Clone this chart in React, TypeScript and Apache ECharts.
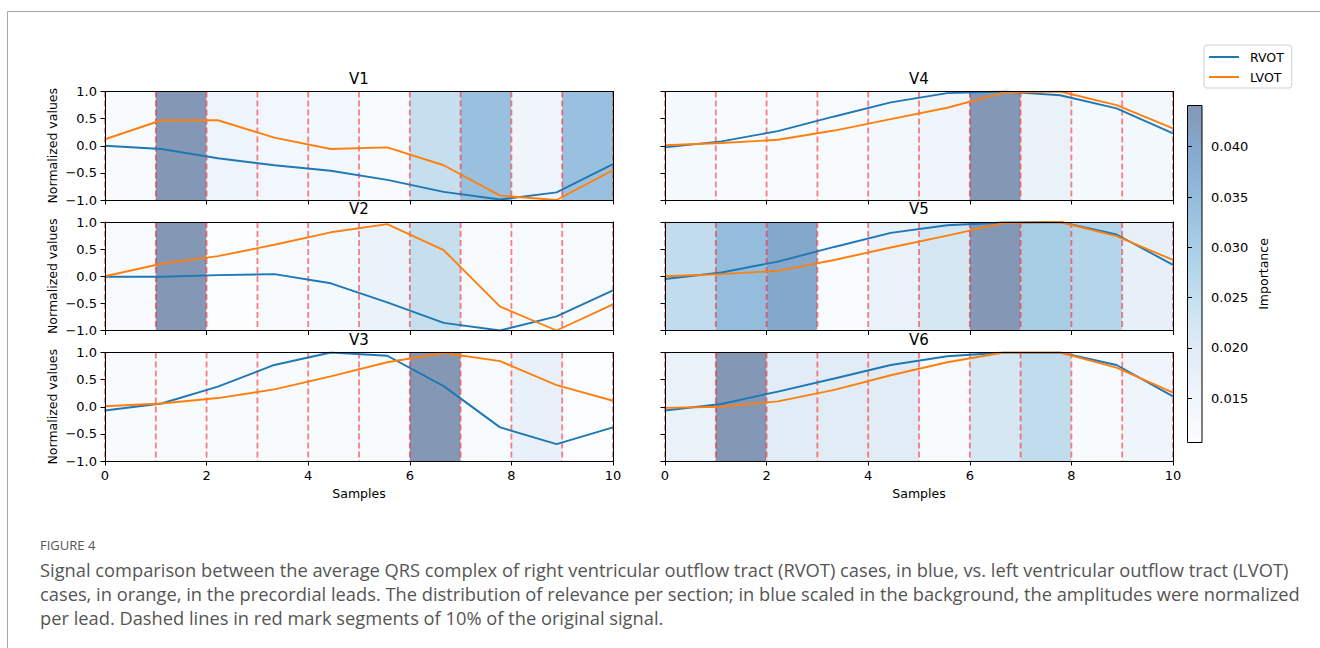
import React, { useEffect, useRef } from 'react';
import * as echarts from 'echarts';

// ---------------- data ----------------
const leads = ['V1', 'V2', 'V3', 'V4', 'V5', 'V6'];
const samples = [0, 1.111, 2.222, 3.333, 4.444, 5.556, 6.667, 7.778, 8.889, 10];

const rvotV1 = [0.0, -0.06, -0.23, -0.36, -0.46, -0.63, -0.85, -0.99, -0.86, -0.34];
const lvotV1 = [0.12, 0.47, 0.47, 0.15, -0.06, -0.03, -0.36, -0.92, -1.0, -0.45];
const rvotV2 = [-0.01, -0.01, 0.02, 0.04, -0.13, -0.48, -0.86, -1.0, -0.74, -0.26];
const lvotV2 = [0.0, 0.23, 0.37, 0.58, 0.81, 0.96, 0.48, -0.56, -1.0, -0.52];
const rvotV3 = [-0.07, 0.06, 0.37, 0.77, 1.0, 0.94, 0.38, -0.38, -0.69, -0.38];
const lvotV3 = [0.01, 0.06, 0.16, 0.32, 0.56, 0.82, 0.99, 0.84, 0.4, 0.11];
const rvotV4 = [-0.03, 0.08, 0.27, 0.54, 0.8, 0.97, 1.0, 0.93, 0.69, 0.23];
const lvotV4 = [0.01, 0.05, 0.11, 0.28, 0.49, 0.7, 0.98, 1.0, 0.75, 0.32];
const rvotV5 = [-0.05, 0.07, 0.27, 0.54, 0.8, 0.94, 0.99, 1.0, 0.77, 0.21];
const lvotV5 = [0.0, 0.04, 0.1, 0.3, 0.53, 0.75, 0.98, 1.0, 0.74, 0.3];
const rvotV6 = [-0.07, 0.05, 0.28, 0.52, 0.77, 0.93, 1.0, 1.0, 0.77, 0.19];
const lvotV6 = [-0.02, 0.0, 0.1, 0.31, 0.58, 0.82, 1.0, 1.0, 0.72, 0.26];

const segmentEdges = [0, 1, 2, 3, 4, 5, 6, 7, 8, 9, 10];
const importanceV1 = [0.0116, 0.0441, 0.0153, 0.014, 0.014, 0.0119, 0.0247, 0.0334, 0.0146, 0.0334];
const importanceV2 = [0.0123, 0.0441, 0.0109, 0.0123, 0.0129, 0.016, 0.0247, 0.0123, 0.0123, 0.0116];
const importanceV3 = [0.0116, 0.0116, 0.0116, 0.0116, 0.0116, 0.0119, 0.0441, 0.0116, 0.017, 0.0109];
const importanceV4 = [0.0129, 0.0119, 0.0119, 0.0119, 0.0133, 0.0146, 0.0441, 0.0166, 0.0129, 0.0133];
const importanceV5 = [0.0253, 0.0347, 0.0401, 0.0113, 0.0166, 0.0217, 0.0441, 0.03, 0.0274, 0.0173];
const importanceV6 = [0.0166, 0.0441, 0.0193, 0.0193, 0.0193, 0.0116, 0.022, 0.0253, 0.0119, 0.0146];

const importanceMin = 0.0106;
const importanceMax = 0.0441;
const colorbarTicks = [0.015, 0.02, 0.025, 0.03, 0.035, 0.04];
const xTicksInterval = 2;
const yTicksInterval = 0.5;
const seriesNames = ['RVOT', 'LVOT'];

const captionHead = 'FIGURE 4';
const captionLines = [
  'Signal comparison between the average QRS complex of right ventricular outflow tract (RVOT) cases, in blue, vs. left ventricular outflow tract (LVOT)',
  'cases, in orange, in the precordial leads. The distribution of relevance per section; in blue scaled in the background, the amplitudes were normalized',
  'per lead. Dashed lines in red mark segments of 10% of the original signal.',
];

const rvotAll = [rvotV1, rvotV2, rvotV3, rvotV4, rvotV5, rvotV6];
const lvotAll = [lvotV1, lvotV2, lvotV3, lvotV4, lvotV5, lvotV6];
const importanceAll = [importanceV1, importanceV2, importanceV3, importanceV4, importanceV5, importanceV6];

// ---------------- colormap (matplotlib Blues, alpha 0.5 on white) ----------------
const bluesStops = ['#f7fbff', '#deebf7', '#c6dbef', '#9ecae1', '#6baed6', '#4292c6', '#2171b5', '#08519c', '#08306b'];
const hexToRgb = (h: string) => [parseInt(h.slice(1, 3), 16), parseInt(h.slice(3, 5), 16), parseInt(h.slice(5, 7), 16)];
const blendWhite = (rgb: number[]) => rgb.map((c) => Math.round(c * 0.5 + 255 * 0.5));
const rgbStr = (rgb: number[]) => `rgb(${rgb[0]},${rgb[1]},${rgb[2]})`;
const colorFor = (v: number) => {
  let t = (v - importanceMin) / (importanceMax - importanceMin);
  t = Math.max(0, Math.min(1, t));
  const pos = t * (bluesStops.length - 1);
  const i = Math.min(Math.floor(pos), bluesStops.length - 2);
  const f = pos - i;
  const a = hexToRgb(bluesStops[i]);
  const b = hexToRgb(bluesStops[i + 1]);
  return rgbStr(blendWhite(a.map((c, k) => c + (b[k] - c) * f)));
};

// ---------------- layout ----------------
const FONT = 'DejaVu Sans';
const colLeft = [105, 665];
const rowTop = [91.5, 222, 352.5];
const panelW = 508;
const panelH = 108.5;

function buildOption() {
  const grids: any[] = [];
  const xAxes: any[] = [];
  const yAxes: any[] = [];
  const series: any[] = [];
  const graphics: any[] = [];

  leads.forEach((lead, p) => {
    const col = p < 3 ? 0 : 1;
    const row = p % 3;
    const left = colLeft[col];
    const top = rowTop[row];
    grids.push({ left, top, width: panelW, height: panelH, containLabel: false });
    const bottomRow = row === 2;
    xAxes.push({
      type: 'value', gridIndex: p, min: 0, max: 10, interval: xTicksInterval, position: 'bottom', z: 10,
      axisLine: { show: true, onZero: false, lineStyle: { color: '#000', width: 1 } },
      axisTick: { show: true, length: 4.5, lineStyle: { color: '#000', width: 1 } },
      axisLabel: { show: bottomRow, color: '#000', fontSize: 13, fontFamily: FONT, margin: 8 },
      splitLine: { show: false },
      name: bottomRow ? 'Samples' : '', nameLocation: 'middle', nameGap: 26,
      nameTextStyle: { color: '#000', fontSize: 12.5, fontFamily: FONT },
    });
    xAxes.push({
      type: 'value', gridIndex: p, min: 0, max: 10, position: 'top', z: 10,
      axisLine: { show: true, onZero: false, lineStyle: { color: '#000', width: 1 } },
      axisTick: { show: false }, axisLabel: { show: false }, splitLine: { show: false },
    });
    yAxes.push({
      type: 'value', gridIndex: p, min: -1, max: 1, interval: yTicksInterval, position: 'left', z: 10,
      axisLine: { show: true, onZero: false, lineStyle: { color: '#000', width: 1 } },
      axisTick: { show: true, length: 4.5, lineStyle: { color: '#000', width: 1 } },
      axisLabel: {
        show: col === 0, color: '#000', fontSize: 13, fontFamily: FONT, margin: 8,
        formatter: (v: number) => v.toFixed(1).replace('-', '\u2212'),
      },
      splitLine: { show: false },
      name: col === 0 ? 'Normalized values' : '', nameLocation: 'middle', nameGap: 46,
      nameTextStyle: { color: '#000', fontSize: 12.5, fontFamily: FONT },
    });
    yAxes.push({
      type: 'value', gridIndex: p, min: -1, max: 1, position: 'right', z: 10,
      axisLine: { show: true, onZero: false, lineStyle: { color: '#000', width: 1 } },
      axisTick: { show: false }, axisLabel: { show: false }, splitLine: { show: false },
    });

    const imp = importanceAll[p];
    series.push({
      type: 'custom', name: 'importance-' + lead, xAxisIndex: 2 * p, yAxisIndex: 2 * p, z: 1, silent: true,
      encode: { x: [0, 1] },
      data: imp.map((v, i) => [segmentEdges[i], segmentEdges[i + 1], v]),
      renderItem: (_params: any, api: any) => {
        const p0 = api.coord([api.value(0), 1]);
        const p1 = api.coord([api.value(1), -1]);
        return {
          type: 'rect',
          shape: { x: p0[0], y: p0[1], width: p1[0] - p0[0], height: p1[1] - p0[1] },
          style: { fill: colorFor(api.value(2)) },
        };
      },
    });
    series.push({
      type: 'custom', name: 'segments-' + lead, xAxisIndex: 2 * p, yAxisIndex: 2 * p, z: 2, silent: true,
      encode: { x: 0 },
      data: segmentEdges.map((e) => [e]),
      renderItem: (_params: any, api: any) => {
        const a = api.coord([api.value(0), 1]);
        const b = api.coord([api.value(0), -1]);
        return {
          type: 'line',
          shape: { x1: a[0], y1: a[1], x2: b[0], y2: b[1] },
          style: { stroke: 'rgba(255,0,0,0.5)', lineWidth: 1.8, lineDash: [6, 3] },
        };
      },
    });
    series.push({
      type: 'line', name: seriesNames[0], xAxisIndex: 2 * p, yAxisIndex: 2 * p, z: 3,
      data: samples.map((x, i) => [x, rvotAll[p][i]]),
      symbol: 'none', showSymbol: false, silent: true,
      lineStyle: { color: '#1f77b4', width: 1.9 }, itemStyle: { color: '#1f77b4' },
    });
    series.push({
      type: 'line', name: seriesNames[1], xAxisIndex: 2 * p, yAxisIndex: 2 * p, z: 4,
      data: samples.map((x, i) => [x, lvotAll[p][i]]),
      symbol: 'none', showSymbol: false, silent: true,
      lineStyle: { color: '#ff7f0e', width: 1.9 }, itemStyle: { color: '#ff7f0e' },
    });

    graphics.push({
      type: 'text', x: left + panelW / 2, y: top - 13,
      style: { text: lead, fill: '#000', font: `15px "${FONT}"`, textAlign: 'center', textVerticalAlign: 'middle' },
    });
  });

  // colorbar
  const cbIndex = 6;
  grids.push({ left: 1187.5, top: 105.5, width: 14.5, height: 337 });
  xAxes.push({ type: 'value', gridIndex: cbIndex, min: 0, max: 1, show: false });
  yAxes.push({
    type: 'value', gridIndex: cbIndex, min: importanceMin, max: importanceMax, position: 'right', z: 10,
    axisLine: { show: false },
    axisTick: { show: true, length: 4.5, customValues: colorbarTicks, lineStyle: { color: '#000', width: 1 } },
    axisLabel: {
      show: true, customValues: colorbarTicks, color: '#000', fontSize: 13, fontFamily: FONT, margin: 9,
      formatter: (v: number) => v.toFixed(3),
    },
    splitLine: { show: false },
    name: 'Importance', nameLocation: 'middle', nameRotate: 90, nameGap: 55,
    nameTextStyle: { color: '#000', fontSize: 12.5, fontFamily: FONT },
  });
  const gradStops = bluesStops.map((c, i) => ({ offset: i / (bluesStops.length - 1), color: rgbStr(blendWhite(hexToRgb(c))) }));
  series.push({
    type: 'custom', name: 'colorbar', xAxisIndex: 12, yAxisIndex: 12, silent: true, z: 5,
    encode: { x: 0, y: [1, 2] },
    data: [[0, importanceMin, importanceMax]],
    renderItem: (_params: any, api: any) => {
      const a = api.coord([0, api.value(2)]);
      const b = api.coord([1, api.value(1)]);
      return {
        type: 'rect',
        shape: { x: a[0], y: a[1], width: b[0] - a[0], height: b[1] - a[1] },
        style: { fill: new echarts.graphic.LinearGradient(0, 1, 0, 0, gradStops), stroke: '#000', lineWidth: 1 },
      };
    },
  });

  // frame
  graphics.push({
    type: 'polyline', silent: true,
    shape: { points: [[7.5, 648], [7.5, 11.5], [1320, 11.5]] },
    style: { stroke: '#a6a6a6', lineWidth: 1, fill: 'none' },
  });
  // caption
  graphics.push({
    type: 'text', x: 40, y: 545,
    style: { text: captionHead, fill: '#555', font: '13px "Open Sans"', textVerticalAlign: 'middle' },
  });
  captionLines.forEach((line, i) => {
    graphics.push({
      type: 'text', x: 40, y: 569 + i * 24,
      style: { text: line, fill: '#555', font: '18.3px "Open Sans"', textVerticalAlign: 'middle' },
    });
  });

  return {
    animation: false,
    backgroundColor: '#fff',
    textStyle: { fontFamily: FONT },
    grid: grids,
    xAxis: xAxes,
    yAxis: yAxes,
    series,
    legend: {
      data: seriesNames, orient: 'vertical', left: 1204, top: 45,
      icon: 'rect', itemWidth: 30, itemHeight: 2, itemGap: 6,
      padding: [5, 8, 4, 5], borderColor: '#d0d0d0', borderWidth: 1, borderRadius: 3,
      backgroundColor: '#fff',
      textStyle: { color: '#000', fontSize: 12.5, fontFamily: FONT, lineHeight: 14, padding: [0, 0, 0, 6] },
      selectedMode: false,
    },
    graphic: graphics,
  };
}

export default function App() {
  const ref = useRef<HTMLDivElement>(null);
  useEffect(() => {
    if (!ref.current) return;
    const chart = echarts.init(ref.current, null, { renderer: 'svg' });
    chart.setOption(buildOption() as any);
    return () => chart.dispose();
  }, []);
  return (
    <div
      ref={ref}
      style={{ position: 'absolute', left: 0, top: 0, width: 1320, height: 648, background: '#fff' }}
    />
  );
}
